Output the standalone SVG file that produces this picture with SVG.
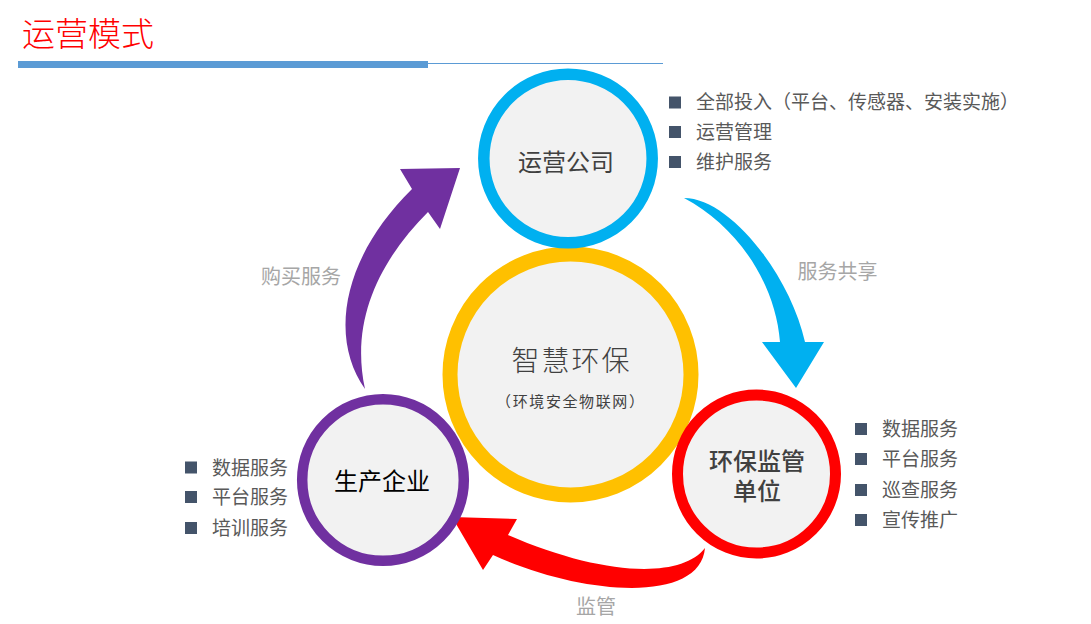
<svg xmlns="http://www.w3.org/2000/svg" width="1091" height="624" viewBox="0 0 1091 624">
<style>
text{font-family:"Noto Sans CJK SC","Noto Sans",sans-serif}
.ring{fill:#F2F2F2}
.lbl{font-size:20px;fill:#A6A6A6;text-anchor:middle}
.bt{font-size:19px;fill:#595959}
.sq{fill:#44546A}
.name{font-size:24px;fill:#404040;text-anchor:middle}
</style>
<rect width="1091" height="624" fill="#FFFFFF"/>
<g id="header">
<text x="22" y="46" font-size="33" fill="#FF0000" font-weight="300">运营模式</text>
<rect x="18" y="61" width="410" height="7" fill="#5B9BD5"/>
<line x1="428" y1="63.5" x2="663" y2="63.5" stroke="#5B9BD5" stroke-width="1"/>
</g>
<g id="connectors">
<path d="M684 198 C730 198 790 275 805 342 L824 342 L796 388 L762 342 L780 342 C775 280 735 225 684 198 Z" fill="#00B0F0"/>
<path d="M365 389 C330 340 340 260 412 189 L400 169 L460 168 L440 229 L428 212 C380 260 350 320 365 389 Z" fill="#7030A0"/>
<path d="M705 548 C680 580 600 575 508 535 L517 519 L452 517 L483 570 L493 555 C580 595 700 605 705 548 Z" fill="#FF0000"/>
<text class="lbl" x="837.5" y="279">服务共享</text>
<text class="lbl" x="301" y="284">购买服务</text>
<text class="lbl" x="596" y="614">监管</text>
</g>
<g id="center">
<circle class="ring" cx="570.5" cy="374.5" r="120.5" stroke="#FFC000" stroke-width="15"/>
<text x="571.5" y="371" font-size="28" fill="#404040" text-anchor="middle" letter-spacing="2" font-weight="300">智慧环保</text>
<text x="570.8" y="407" font-size="15" fill="#404040" text-anchor="middle" letter-spacing="1.6">（环境安全物联网）</text>
</g>
<g id="operator">
<circle class="ring" cx="568" cy="158.5" r="84.2" stroke="#00B0F0" stroke-width="11.5"/>
<text class="name" x="566" y="171">运营公司</text>
<rect class="sq" x="669" y="96.5" width="12" height="12"/>
<rect class="sq" x="669" y="126" width="12" height="12"/>
<rect class="sq" x="669" y="156" width="12" height="12"/>
<text class="bt" x="696" y="109">全部投入（平台、传感器、安装实施）</text>
<text class="bt" x="696" y="139">运营管理</text>
<text class="bt" x="696" y="169">维护服务</text>
</g>
<g id="regulator">
<circle class="ring" cx="756.5" cy="474" r="79" stroke="#FF0000" stroke-width="11"/>
<text class="name" x="757" y="469.5" font-weight="500">环保监管<tspan x="757" dy="30">单位</tspan></text>
<rect class="sq" x="855" y="423" width="12" height="12"/>
<rect class="sq" x="855" y="453" width="12" height="12"/>
<rect class="sq" x="855" y="484" width="12" height="12"/>
<rect class="sq" x="855" y="514" width="12" height="12"/>
<text class="bt" x="882" y="436">数据服务</text>
<text class="bt" x="882" y="466">平台服务</text>
<text class="bt" x="882" y="497">巡查服务</text>
<text class="bt" x="882" y="527">宣传推广</text>
</g>
<g id="enterprise">
<circle class="ring" cx="383" cy="480" r="80.8" stroke="#7030A0" stroke-width="10.5"/>
<text class="name" x="382" y="490" style="fill:#000000">生产企业</text>
<rect class="sq" x="185" y="461.5" width="12" height="12"/>
<rect class="sq" x="185" y="491" width="12" height="12"/>
<rect class="sq" x="185" y="522" width="12" height="12"/>
<text class="bt" x="212" y="474.5">数据服务</text>
<text class="bt" x="212" y="504">平台服务</text>
<text class="bt" x="212" y="535">培训服务</text>
</g>
</svg>
